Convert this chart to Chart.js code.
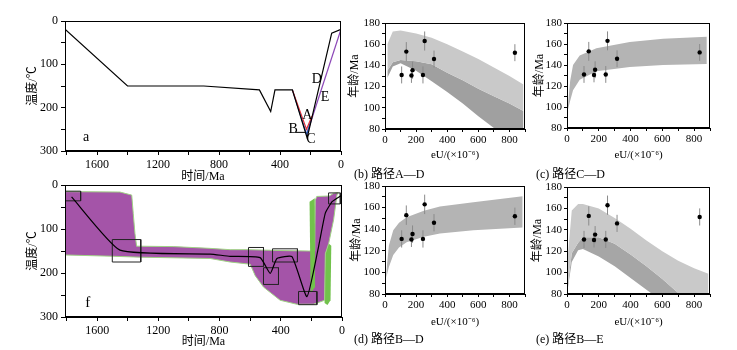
<!DOCTYPE html>
<html>
<head>
<meta charset="utf-8">
<script src="https://cdn.jsdelivr.net/npm/chart.js@4.4.1/dist/chart.umd.min.js"></script>
<style>
  body { margin: 0; background: #fff; width: 737px; height: 350px; position: relative; overflow: hidden; }
  .box { position: absolute; }
  .cap { position: absolute; font-family: 'Liberation Serif', 'Noto Sans CJK SC', serif; font-size: 12px; color: #000; white-space: nowrap; }
</style>
</head>
<body>
<div class="box" style="left:0;top:0;width:350px;height:185px"><canvas id="ca"></canvas></div>
<div class="box" style="left:0;top:165px;width:350px;height:185px"><canvas id="cf"></canvas></div>
<div class="box" style="left:338px;top:0;width:200px;height:162px"><canvas id="cb"></canvas></div>
<div class="box" style="left:520px;top:0;width:200px;height:162px"><canvas id="cc"></canvas></div>
<div class="box" style="left:338px;top:163px;width:200px;height:166px"><canvas id="cd"></canvas></div>
<div class="box" style="left:520px;top:163px;width:200px;height:166px"><canvas id="ce"></canvas></div>
<div class="cap" style="left:354px;top:164px">(b) 路径A—D</div>
<div class="cap" style="left:536px;top:164px">(c) 路径C—D</div>
<div class="cap" style="left:354px;top:329px">(d) 路径B—D</div>
<div class="cap" style="left:536px;top:329px">(e) 路径B—E</div>
<script>
// ===== 数据 =====
// (a) 热史路径 (时间 Ma, 温度 ℃)
var pathA_t = [1810, 1400, 900, 535, 461, 433, 319, 222, 61, 0];
var pathA_T = [19, 150, 150, 159, 209, 159, 159, 270, 28, 19];
var pathRed_t = [319, 226, 190];
var pathRed_T = [159, 250, 219];
var pathBlue_t = [319, 225, 195];
var pathBlue_T = [159, 262, 226];
var pathE_t = [225, 0];
var pathE_T = [262, 19];
var markB_t = [300, 230];
var markB_T = [257, 257];
var labA = ['A', 'B', 'C', 'D', 'E', 'a'];
var labA_t = [221, 313, 197, 159, 105, 1672];
var labA_T = [217, 250, 273, 134, 176, 269];

// (f) 模拟结果
var meanF_t = [1767, 1451, 862, 731, 535, 469, 425, 327, 229, 153, 109, 65, 33, 0];
var meanF_T = [27, 148, 157, 162, 165, 201, 167, 163, 254, 140, 64, 38, 30, 23];
var purple_t = [1810, 1451, 1374, 1364, 1353, 1342, 1100, 862, 731, 611, 400, 218, 178, 175, 165, 83, 55, 25, 33, 55, 87, 109, 114, 186, 295, 404, 513, 567, 600, 731, 862, 1320, 1495, 1810];
var purple_T = [15, 16, 23, 65, 110, 139, 140, 144, 147, 147, 149, 150, 150, 35, 26, 25, 19, 17, 23, 79, 133, 156, 262, 271, 271, 262, 232, 206, 180, 175, 167, 164, 162, 159];
// 绿色路径露出的部分
var greenL_t = [212, 178, 176, 205];
var greenL_T = [38, 30, 232, 246];
var greenR_t = [87, 70, 75, 95, 114, 114, 109];
var greenR_T = [133, 138, 262, 273, 268, 262, 156];
// 约束框 [t0, t1, T0, T1]
var box_t0 = [1810, 1501, 611, 513, 454, 284, 88];
var box_t1 = [1708, 1315, 513, 415, 291, 164, 11];
var box_T0 = [14, 124, 142, 188, 145, 242, 18];
var box_T1 = [36, 175, 185, 226, 175, 272, 43];

// 实测年龄 eU (×10^-6), 年龄 Ma, 误差
var eU = [107, 137, 170, 177, 244, 255, 315, 835];
var age = [131, 153, 130.5, 135.5, 131, 163, 146, 152];
var ageErr = [8, 9, 7, 8, 8, 9, 8, 8];

// (b) 路径A—D
var b_eU = [15, 50, 100, 200, 300, 400, 500, 600, 700, 800, 890];
var b_top = [160, 172, 173, 170, 166, 160, 153, 146, 138, 130, 122];
var b_mid = [135, 143, 145, 144, 141, 133, 126, 118, 111, 104, 97];
var b_low = [128, 139, 142, 135, 125, 115, 104, 92, 81, 70, 60];
// (c) 路径C—D
var c_eU = [5, 20, 38, 80, 185, 395, 605, 880];
var c_top = [100, 125, 140, 149, 156, 162, 165, 167];
var c_low = [97, 106, 116, 126, 134, 138, 140, 141];
// (d) 路径B—D
var d_eU = [8, 25, 53, 90, 139, 250, 353, 568, 885];
var d_top = [100, 125, 139, 146, 151, 157, 161, 165, 170.5];
var d_low = [95, 105, 116, 123, 128, 133, 136, 139, 141.6];
// (e) 路径B—E
var e_eU = [5, 30, 70, 100, 200, 300, 400, 500, 600, 700, 800, 890];
var e_top = [115, 158, 164, 164, 160, 151, 141, 130, 120, 111, 104, 99];
var e_mid = [88, 118, 128, 133, 133, 127, 117, 106, 94, 81, 68, 55];
var e_low = [85, 110, 121, 122, 115, 106, 95, 84, 73, 62, 51, 40];

// 刻度
var timeTicks = [0, 200, 400, 600, 800, 1000, 1200, 1400, 1600, 1800];
var timeLabels = [0, 400, 800, 1200, 1600];
var tempTicks = [0, 50, 100, 150, 200, 250, 300];
var tempLabels = [0, 100, 200, 300];
var eUTicks = [0, 100, 200, 300, 400, 500, 600, 700, 800, 900];
var eULabels = [0, 200, 400, 600, 800];
var ageTicks = [80, 90, 100, 110, 120, 130, 140, 150, 160, 170, 180];
var ageLabels = [80, 100, 120, 140, 160, 180];

var SERIF = "'Liberation Serif', 'Noto Sans CJK SC', serif";
var PURPLE = '#a454a8';
var GREEN = '#72c24c';

function pts(xs, ys) {
    var out = [];
    for (var i = 0; i < xs.length; i++) out.push({x: xs[i], y: ys[i]});
    return out;
}

function line(xs, ys, color, width, extra) {
    var d = {data: pts(xs, ys), borderColor: color, backgroundColor: color, borderWidth: width,
        pointRadius: 0, fill: false, tension: 0};
    for (var k in (extra || {})) d[k] = extra[k];
    return d;
}

function axis(o) {
    return {
        type: 'linear', min: o.min, max: o.max, reverse: !!o.reverse,
        afterBuildTicks: function (s) { s.ticks = o.ticks.map(function (v) { return {value: v}; }); },
        afterFit: function (s) { if (s.isHorizontal()) s.height = o.size; else s.width = o.size; },
        ticks: {
            autoSkip: false, maxRotation: 0, color: '#000', padding: o.tpad,
            font: {family: SERIF, size: o.fs},
            callback: function (v) { return o.labels.indexOf(v) >= 0 ? String(v) : ''; }
        },
        grid: {drawOnChartArea: false, tickLength: o.tlen, color: '#000'},
        border: {color: '#000', width: 1},
        title: {display: true, text: o.title, color: '#000', font: {family: SERIF, size: o.titleSize}, padding: o.titlePad}
    };
}

// 外框
var framePlugin = {
    id: 'frame',
    afterDatasetsDraw: function (chart) {
        var a = chart.chartArea, ctx = chart.ctx;
        ctx.save();
        ctx.strokeStyle = '#000';
        ctx.lineWidth = 1;
        ctx.strokeRect(Math.round(a.left) + 0.5, Math.round(a.top) + 0.5, Math.round(a.right - a.left) - 1, Math.round(a.bottom - a.top) - 1);
        ctx.restore();
    }
};

// 文字标注
function textPlugin(texts, xs, ys, size) {
    return {
        id: 'txt',
        afterDatasetsDraw: function (chart) {
            var ctx = chart.ctx, sx = chart.scales.x, sy = chart.scales.y;
            ctx.save();
            ctx.fillStyle = '#000';
            ctx.font = size + 'px ' + SERIF;
            ctx.textAlign = 'center';
            ctx.textBaseline = 'middle';
            for (var i = 0; i < texts.length; i++) {
                ctx.fillText(texts[i], sx.getPixelForValue(xs[i]), sy.getPixelForValue(ys[i]));
            }
            ctx.restore();
        }
    };
}

function makeChart(id, xAx, yAx, datasets, pad, plugins) {
    return new Chart(document.getElementById(id), {
        type: 'line',
        data: {datasets: datasets},
        options: {
            responsive: true, maintainAspectRatio: false, animation: false,
            layout: {padding: pad},
            plugins: {legend: {display: false}, tooltip: {enabled: false}},
            scales: {x: xAx, y: yAx}
        },
        plugins: [framePlugin].concat(plugins || [])
    });
}

function timeAxis(size) {
    return axis({min: 0, max: 1810, reverse: true, ticks: timeTicks, labels: timeLabels, size: size,
        fs: 12, tlen: 4, tpad: 3, title: '时间/Ma', titleSize: 12, titlePad: {top: 0, bottom: 1}});
}
function tempAxis() {
    return axis({min: 0, max: 300, reverse: true, ticks: tempTicks, labels: tempLabels, size: 65,
        fs: 12, tlen: 4, tpad: 3, title: '温度/℃', titleSize: 12, titlePad: {top: 26, bottom: 0}});
}

// ----- (a) -----
makeChart('ca', timeAxis(34), tempAxis(), [
    line(markB_t, markB_T, '#000', 1),
    line(pathA_t, pathA_T, '#000', 1.2),
    line(pathRed_t, pathRed_T, '#e0303a', 1.2),
    line(pathBlue_t, pathBlue_T, '#2e62c4', 1.2),
    line(pathE_t, pathE_T, '#8d48b8', 1.2)
], {top: 21, right: 9, left: 0, bottom: 0}, [textPlugin(labA, labA_t, labA_T, 14)]);

// ----- (f) -----
var fSets = [line(meanF_t, meanF_T, '#000', 1.2, {tension: 0.15})];
for (var i = 0; i < box_t0.length; i++) {
    fSets.push(line([box_t0[i], box_t1[i], box_t1[i], box_t0[i], box_t0[i]],
        [box_T0[i], box_T0[i], box_T1[i], box_T1[i], box_T0[i]], '#222', 1));
}
fSets.push(line(greenL_t, greenL_T, GREEN, 0, {fill: 'shape', backgroundColor: GREEN}));
fSets.push(line(purple_t, purple_T, '#9fd184', 1, {fill: 'shape', backgroundColor: PURPLE}));
fSets.push(line(greenR_t, greenR_T, GREEN, 0, {fill: 'shape', backgroundColor: GREEN}));
makeChart('cf', timeAxis(33), tempAxis(), fSets,
    {top: 20, right: 8, left: 0, bottom: 0}, [textPlugin(['f'], [1662], [269], 15)]);

// ----- (b)-(e) -----
function eUAxis(size) {
    return axis({min: 0, max: 900, ticks: eUTicks, labels: eULabels, size: size,
        fs: 11, tlen: 3, tpad: 2, title: 'eU/(×10⁻⁶)', titleSize: 11, titlePad: {top: 0, bottom: 0.5}});
}
function ageAxis(tp) {
    return axis({min: 80, max: 180, ticks: ageTicks, labels: ageLabels, size: 47,
        fs: 11, tlen: 3, tpad: 2, title: '年龄/Ma', titleSize: 12, titlePad: {top: tp, bottom: 0}});
}
function sampleSets() {
    var s = [line(eU, age, '#000', 0, {showLine: false, pointRadius: 2.2, pointBackgroundColor: '#000', pointBorderWidth: 0})];
    for (var i = 0; i < eU.length; i++) {
        s.push(line([eU[i], eU[i]], [age[i] - ageErr[i], age[i] + ageErr[i]], '#8a8a8a', 1));
    }
    return s;
}

makeChart('cb', eUAxis(33), ageAxis(10), sampleSets().concat([
    line(b_eU, b_top, '#c9c9c9', 0, {fill: '+1'}),
    line(b_eU, b_mid, '#a0a0a0', 0, {fill: '+1'}),
    line(b_eU, b_low, '#a0a0a0', 0)
]), {top: 23, right: 13, left: 0, bottom: 0});

makeChart('cc', eUAxis(34), ageAxis(13), sampleSets().concat([
    line(c_eU, c_top, '#b4b4b4', 0, {fill: '+1'}),
    line(c_eU, c_low, '#b4b4b4', 0)
]), {top: 23, right: 10, left: 0, bottom: 0});

makeChart('cd', eUAxis(35), ageAxis(11.5), sampleSets().concat([
    line(d_eU, d_top, '#b4b4b4', 0, {fill: '+1'}),
    line(d_eU, d_low, '#b4b4b4', 0)
]), {top: 23, right: 13, left: 0, bottom: 0});

makeChart('ce', eUAxis(35), ageAxis(11), sampleSets().concat([
    line(e_eU, e_top, '#c9c9c9', 0, {fill: '+1'}),
    line(e_eU, e_mid, '#a6a6a6', 0, {fill: '+1'}),
    line(e_eU, e_low, '#a6a6a6', 0)
]), {top: 24, right: 10, left: 0, bottom: 0});
</script>
</body>
</html>
